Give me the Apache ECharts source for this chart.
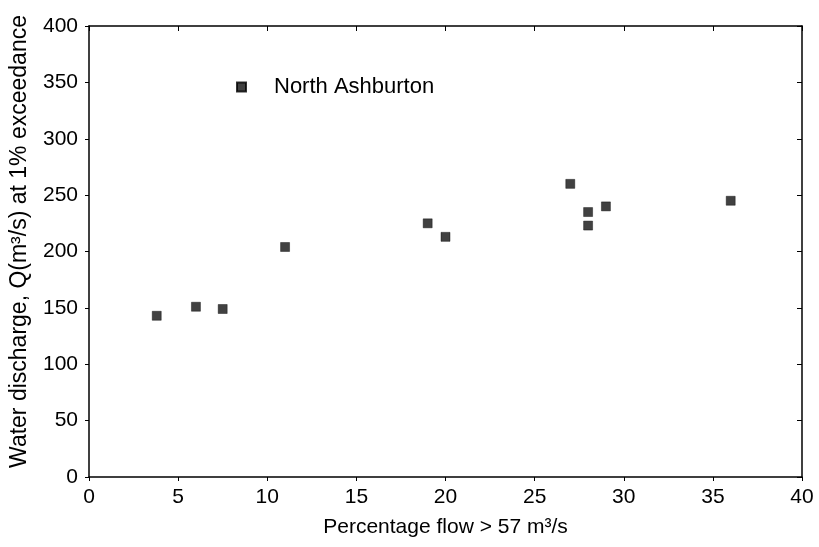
<!DOCTYPE html>
<html>
<head>
<meta charset="utf-8">
<script src="https://cdn.jsdelivr.net/npm/echarts@6/dist/echarts.min.js"></script>
<style>
  html, body { margin: 0; padding: 0; background: #fff; }
  #chart { width: 819px; height: 547px; }
</style>
</head>
<body>
<div id="chart"></div>
<script>
// percentage of time flow > 57 m3/s
const pctFlow = [3.8, 6, 7.5, 11, 19, 20, 27, 28, 28, 29, 36];
// discharge at 1% exceedance (m3/s)
const discharge = [143, 151, 149, 204, 225, 213, 260, 235, 223, 240, 245];
const seriesName = 'North Ashburton';

const font = 'Arial, "Liberation Sans", sans-serif';
const chart = echarts.init(document.getElementById('chart'));

const axisLine = { show: true, onZero: false, lineStyle: { color: '#000', width: 1.5 } };

chart.setOption({
  animation: false,
  backgroundColor: '#fff',
  grid: { left: 88, right: 17, top: 26, bottom: 70 },
  legend: {
    left: 231,
    top: 71,
    icon: 'rect',
    itemWidth: 9,
    itemHeight: 9,
    textStyle: { fontFamily: font, fontSize: 22, color: '#000', padding: [10, 0, 0, 23] },
    data: [seriesName]
  },
  xAxis: [
    {
      type: 'value',
      min: 0, max: 40, interval: 5,
      name: 'Percentage flow > 57 m³/s',
      nameLocation: 'middle',
      nameGap: 40,
      nameTextStyle: { fontFamily: font, fontSize: 21, color: '#000' },
      axisLine: axisLine,
      axisTick: { show: true, length: 4, lineStyle: { color: '#000' } },
      axisLabel: { fontFamily: font, fontSize: 21, color: '#000', margin: 10 },
      splitLine: { show: false }
    },
    {
      type: 'value',
      position: 'top',
      min: 0, max: 40, interval: 5,
      axisLine: axisLine,
      axisTick: { show: true, inside: true, length: 5, lineStyle: { color: '#000' } },
      axisLabel: { show: false },
      splitLine: { show: false }
    }
  ],
  yAxis: [
    {
      type: 'value',
      min: 0, max: 400, interval: 50,
      name: 'Water discharge, Q(m³/s) at 1% exceedance',
      nameLocation: 'middle',
      nameGap: 58,
      nameTextStyle: { fontFamily: font, fontSize: 23, color: '#000', padding: [0, 0, 0, 20] },
      axisLine: axisLine,
      axisTick: { show: true, length: 4, lineStyle: { color: '#000' } },
      axisLabel: { fontFamily: font, fontSize: 21, color: '#000', margin: 11 },
      splitLine: { show: false }
    },
    {
      type: 'value',
      position: 'right',
      min: 0, max: 400, interval: 50,
      axisLine: axisLine,
      axisTick: { show: true, inside: true, length: 5, lineStyle: { color: '#000' } },
      axisLabel: { show: false },
      splitLine: { show: false }
    }
  ],
  series: [
    {
      name: seriesName,
      type: 'scatter',
      symbol: 'rect',
      symbolSize: 9,
      itemStyle: { color: '#111', borderColor: '#000', borderWidth: 0.5 },
      data: pctFlow.map((x, i) => [x, discharge[i]])
    }
  ]
});
</script>
</body>
</html>
